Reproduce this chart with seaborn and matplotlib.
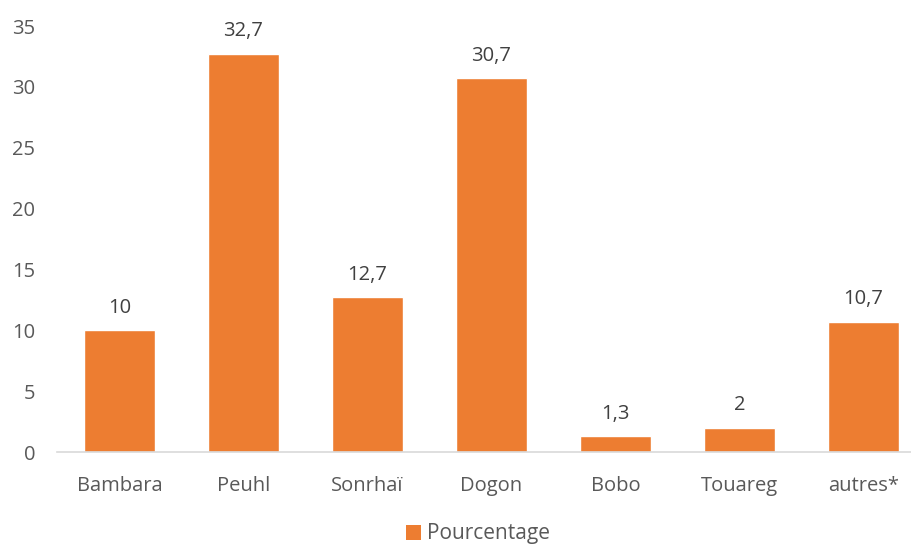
import matplotlib
matplotlib.use("Agg")
import matplotlib.pyplot as plt
import seaborn as sns
import pandas as pd
from matplotlib.patches import Patch

categories = ["Bambara", "Peuhl", "Sonrhaï", "Dogon", "Bobo", "Touareg", "autres*"]
values = [10, 32.7, 12.7, 30.7, 1.3, 2, 10.7]
labels = ["10", "32,7", "12,7", "30,7", "1,3", "2", "10,7"]
series_name = "Pourcentage"
yticks = [0, 5, 10, 15, 20, 25, 30, 35]

sns.set_style("white")
plt.rcParams['font.family'] = ['Open Sans', 'DejaVu Sans']

W, H = 912, 545
fig = plt.figure(figsize=(W / 100, H / 100), dpi=100)
left = 57.5 / W
bottom = (H - 452) / H
top = (H - 26) / H
ax = fig.add_axes([left, bottom, 1 - left, top - bottom])

df = pd.DataFrame({"cat": categories, "val": values})
color = "#ED7D31"
sns.barplot(data=df, x="cat", y="val", color=color, width=0.573, ax=ax, saturation=1)

cat_w = 124.0
ax.set_xlim(-0.5, -0.5 + (W - 57.5) / cat_w)
ax.set_ylim(0, 35)
ax.set_yticks(yticks)
ax.set_yticklabels([str(t) for t in yticks])
ax.set_xlabel("")
ax.set_ylabel("")

for s in ["top", "right", "left"]:
    ax.spines[s].set_visible(False)
ax.spines["bottom"].set_color("#D9D9D9")
ax.spines["bottom"].set_linewidth(1.2)
ax.tick_params(axis="both", length=0, labelsize=14.5, labelcolor="#595959")
ax.tick_params(axis="x", pad=17)
ax.tick_params(axis="y", pad=16)
for lab in ax.get_yticklabels():
    lab.set_horizontalalignment("right")

for i, (v, l) in enumerate(zip(values, labels)):
    ax.annotate(l, (i, v), xytext=(0, 9), textcoords="offset points",
                ha="center", va="bottom", fontsize=14.5, color="#404040")

handles = [Patch(facecolor=color, edgecolor="none", label=series_name)]
fig.legend(handles=handles, loc="center", bbox_to_anchor=(478 / W, (H - 534) / H),
           frameon=False, fontsize=15, handlelength=0.75, handleheight=0.75,
           handletextpad=0.3, labelcolor="#595959")

fig.savefig("out.png", dpi=100)
